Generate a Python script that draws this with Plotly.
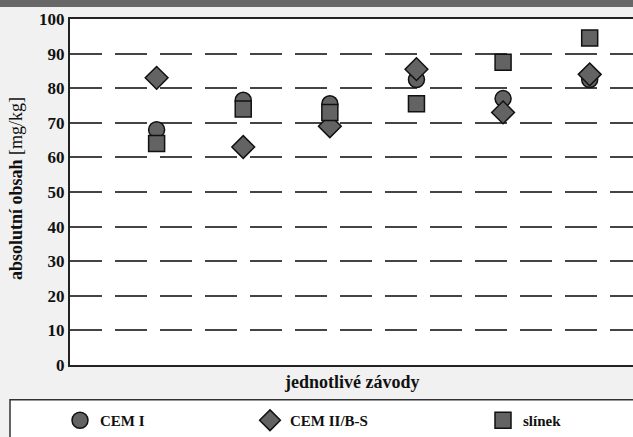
import plotly.graph_objects as go

plants = [1, 2, 3, 4, 5, 6]
cem_i = [68, 76.5, 75.5, 82.5, 77, 82.5]
cem_ii = [83, 63, 69, 85.5, 73, 84]
slinek = [64, 74, 73, 75.5, 87.5, 94.5]
y_ticks = [0, 10, 20, 30, 40, 50, 60, 70, 80, 90, 100]

W, H = 633, 437
FW = W + 30  # figure extends past the window so the plot has no right edge
L, R, T, B = 70, 0, 19, 70
pw, ph = FW - L - R, H - T - B
unit = (W - L) / 6.5
x_max = pw / unit

def px_x(p):
    return (p - L) / pw

def px_y(p):
    return (H - B - p) / ph

FILL = "#636363"
EDGE = "#111111"
FONT = "Liberation Serif, serif"

fig = go.Figure()
series = [
    ("CEM I", cem_i, "circle", 16, "legend", 60),
    ("CEM II/B-S", cem_ii, "diamond", 17.5, "legend2", 250),
    ("slínek", slinek, "square", 16, "legend3", 483),
]
for name, vals, sym, size, leg, _ in series:
    fig.add_trace(go.Scatter(
        x=plants, y=vals, mode="markers", name=name, legend=leg,
        marker=dict(symbol=sym, size=size, color=FILL,
                    line=dict(color=EDGE, width=1.5)),
    ))

legend_common = dict(
    orientation="h", yanchor="middle", xanchor="left",
    bgcolor="rgba(0,0,0,0)", borderwidth=0,
    font=dict(family=FONT, size=15, color="#111", weight="bold"),
    itemsizing="trace",
)
layout_legends = {}
for name, vals, sym, size, leg, lx in series:
    layout_legends[leg] = dict(legend_common, x=px_x(lx), y=px_y(423))

fig.update_layout(
    width=FW, height=H,
    margin=dict(l=L, r=R, t=T, b=B, pad=0),
    paper_bgcolor="#f1f1f1",
    plot_bgcolor="#ffffff",
    showlegend=True,
    **layout_legends,
    xaxis=dict(
        range=[0, x_max], showticklabels=False, ticks="", showgrid=False,
        zeroline=False, showline=True, linecolor="#222", linewidth=2,
        mirror=True, automargin=False,
    ),
    yaxis=dict(
        range=[0, 100], tickvals=y_ticks, ticks="", automargin=False,
        tickfont=dict(family=FONT, size=17, color="#111", weight="bold"),
        showgrid=True, gridcolor="#444", gridwidth=1.5, griddash="32px,13px",
        zeroline=False, showline=True, linecolor="#222", linewidth=2,
    ),
    annotations=[
        dict(text="<b>absolutní obsah</b> [mg/kg]", textangle=-90,
             xref="paper", yref="paper", x=px_x(16), y=px_y(190),
             xanchor="center", yanchor="middle", showarrow=False,
             font=dict(family=FONT, size=18, color="#111")),
        dict(text="jednotlivé závody",
             xref="paper", yref="paper", x=px_x(352), y=px_y(384),
             xanchor="center", yanchor="middle", showarrow=False,
             font=dict(family=FONT, size=18, color="#111", weight="bold")),
    ],
    shapes=[
        dict(type="rect", xref="paper", yref="paper",
             x0=px_x(-5), x1=px_x(FW + 5), y0=px_y(7), y1=px_y(-5),
             fillcolor="#676767", line=dict(width=0), layer="above"),
        dict(type="rect", xref="paper", yref="paper",
             x0=px_x(10), x1=px_x(FW + 10), y0=px_y(H + 10), y1=px_y(402),
             fillcolor="#ffffff", line=dict(color="#333", width=1.5),
             layer="below"),
    ],
)

fig.write_html(
    "out.html",
    config={"displayModeBar": False},
    post_script="document.body.style.margin='0';document.body.style.padding='0';document.body.style.overflow='hidden';",
)
